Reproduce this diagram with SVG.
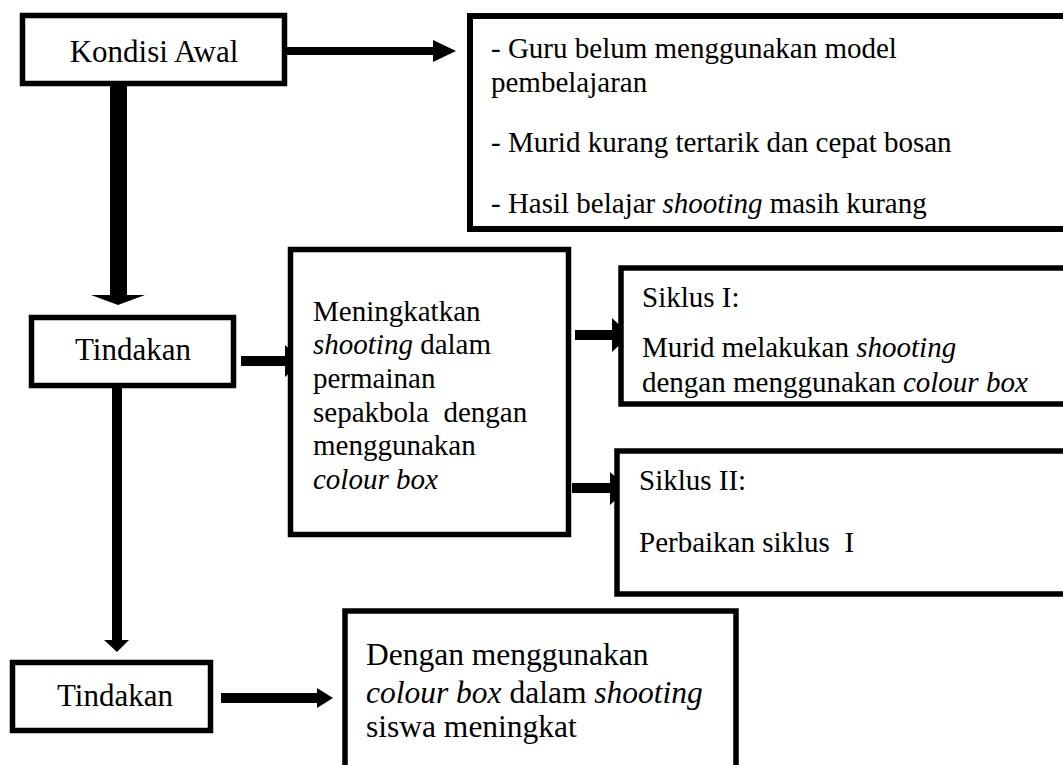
<svg xmlns="http://www.w3.org/2000/svg" width="1063" height="765" viewBox="0 0 1063 765">
<style>
.box{fill:#fff;stroke:#000;stroke-width:5.5}
.t{font-family:"Liberation Serif","Times New Roman",serif;fill:#000}
.s29{font-size:29px}
.s31{font-size:31px}
.s32{font-size:31.5px}
.i{font-style:italic}
.c{fill:#000;stroke:none}
</style>
<rect width="1063" height="765" fill="#fff"/>
<g id="connectors">
  <rect class="c" x="286" y="47" width="148" height="8"/>
  <polygon class="c" points="433,40 456,51 433,62"/>
  <rect class="c" x="110" y="80" width="17" height="216"/>
  <polygon class="c" points="91,295 145,295 118,305"/>
  <rect class="c" x="241" y="356" width="46" height="10"/>
  <polygon class="c" points="285,345 303,361 285,377"/>
  <rect class="c" x="575" y="330" width="39" height="10"/>
  <polygon class="c" points="612,318 630,335 612,352"/>
  <rect class="c" x="572" y="483" width="40" height="10"/>
  <polygon class="c" points="610,472 628,488 610,505"/>
  <rect class="c" x="112" y="386" width="10" height="255"/>
  <polygon class="c" points="104,640 129,640 117,652"/>
  <rect class="c" x="221" y="693" width="97" height="10"/>
  <polygon class="c" points="317,688 333,698 317,708"/>
</g>
<g id="kondisi-awal">
  <rect class="box" x="22.5" y="15.5" width="262" height="68"/>
  <text class="t s31" x="154" y="62" text-anchor="middle">Kondisi Awal</text>
</g>
<g id="kondisi-detail">
  <rect class="box" x="470" y="16" width="610" height="213" style="stroke-width:6"/>
  <text class="t s29" x="491" y="58">- Guru belum menggunakan model</text>
  <text class="t s29" x="491" y="92">pembelajaran</text>
  <text class="t s29" x="491" y="152">- Murid kurang tertarik dan cepat bosan</text>
  <text class="t s29" x="491" y="213">- Hasil belajar <tspan class="i">shooting</tspan> masih kurang</text>
</g>
<g id="tindakan-1">
  <rect class="box" x="31.5" y="317.5" width="202" height="68"/>
  <text class="t s31" x="133" y="360" text-anchor="middle">Tindakan</text>
</g>
<g id="meningkatkan">
  <rect class="box" x="290.5" y="249.5" width="278" height="285"/>
  <text class="t s29" x="313" y="321">Meningkatkan</text>
  <text class="t s29" x="313" y="354"><tspan class="i">shooting</tspan> dalam</text>
  <text class="t s29" x="313" y="388">permainan</text>
  <text class="t s29" x="313" y="422" xml:space="preserve">sepakbola  dengan</text>
  <text class="t s29" x="313" y="455">menggunakan</text>
  <text class="t s29 i" x="313" y="489">colour box</text>
</g>
<g id="siklus-1">
  <rect class="box" x="621" y="268" width="460" height="136"/>
  <text class="t s29" x="642" y="307">Siklus I:</text>
  <text class="t s29" x="642" y="357">Murid melakukan <tspan class="i">shooting</tspan></text>
  <text class="t s29" x="642" y="392">dengan menggunakan <tspan class="i">colour box</tspan></text>
</g>
<g id="siklus-2">
  <rect class="box" x="617" y="451" width="460" height="143"/>
  <text class="t s29" x="639" y="490">Siklus II:</text>
  <text class="t s29" x="639" y="552" xml:space="preserve">Perbaikan siklus  I</text>
</g>
<g id="tindakan-2">
  <rect class="box" x="12.5" y="662.5" width="198" height="68"/>
  <text class="t s31" x="115" y="706" text-anchor="middle">Tindakan</text>
</g>
<g id="hasil">
  <rect class="box" x="345" y="611" width="391" height="170"/>
  <text class="t s32" x="366" y="665">Dengan menggunakan</text>
  <text class="t s32" x="366" y="703"><tspan class="i">colour box</tspan> dalam <tspan class="i">shooting</tspan></text>
  <text class="t s32" x="366" y="737">siswa meningkat</text>
</g>
</svg>
